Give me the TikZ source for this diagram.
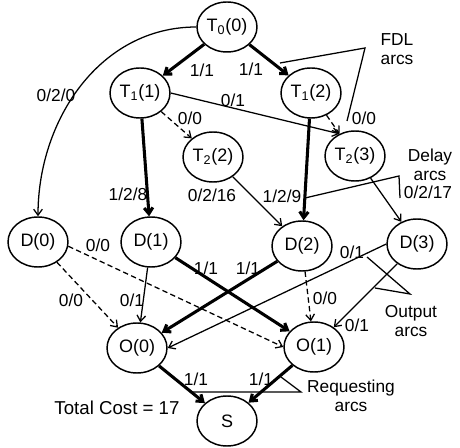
\documentclass[tikz,border=0pt]{standalone}
\usepackage{fontspec}
\setmainfont{Liberation Sans}
\usetikzlibrary{arrows.meta,shapes.geometric}

\begin{document}
\begin{tikzpicture}[x=0.75pt,y=-0.75pt,font=\fontsize{13}{14.5}\selectfont,
		state/.style={draw, ellipse, line width=1.1pt, minimum width=45pt,
			minimum height=37.5pt, inner sep=0pt, font=\fontsize{13.5}{15}\selectfont},
		arc/.style={line width=0.95pt, -{Straight Barb[length=4.5pt,width=6.5pt]}},
		used/.style={arc, line width=2.3pt},
		idle/.style={arc, dash pattern=on 4pt off 2.5pt},
		lbl/.style={inner sep=0pt},
		pointer/.style={line width=0.95pt}]
		\useasboundingbox (0,0) rectangle (460,448);
		% states
		\node[state] (T0)  at (227,27)  {T\textsubscript{0}(0)};
		\node[state] (T11) at (140,93)  {T\textsubscript{1}(1)};
		\node[state] (T12) at (311,93)  {T\textsubscript{1}(2)};
		\node[state] (T22) at (213,157) {T\textsubscript{2}(2)};
		\node[state] (T23) at (355,156) {T\textsubscript{2}(3)};
		\node[state] (D0)  at (38,242)  {D(0)};
		\node[state] (D1)  at (151,242) {D(1)};
		\node[state] (D2)  at (302,246) {D(2)};
		\node[state] (D3)  at (417,244) {D(3)};
		\node[state] (O0)  at (137,348) {O(0)};
		\node[state] (O1)  at (314,347) {O(1)};
		\node[state] (S)   at (227,421) {S};
		% FDL arcs
		\draw[used] (T0) -- (T11);
		\draw[used] (T0) -- (T12);
		\draw[arc]  (T0.west) to[out=180,in=90] (D0.north);
		\draw[idle] (T11) -- (T22);
		\draw[arc]  (T11.east) -- (T23.125);
		\draw[idle] (T12) -- (T23);
		% delay arcs
		\draw[used] (T11) -- (D1);
		\draw[arc]  (T22) -- (D2);
		\draw[used] (T12) -- (D2);
		\draw[arc]  (T23) -- (D3);
		% output arcs
		\draw[idle] (D0) -- (O0);
		\draw[idle] (D0.-8) -- (O1.180);
		\draw[arc]  (D1) -- (O0);
		\draw[used] (D1) -- (O1);
		\draw[used] (D2) -- (O0);
		\draw[idle] (D2) -- (O1);
		\draw[arc]  (D3.west) -- (O0.east);
		\draw[arc]  (D3) -- (O1);
		% requesting arcs
		\draw[used] (O0) -- (S);
		\draw[used] (O1) -- (S);
		% arc labels
		\node[lbl] (l1)  at (202,70)  {1/1};
		\node[lbl] (l2)  at (251,69)  {1/1};
		\node[lbl] (l3)  at (56,95)   {0/2/0};
		\node[lbl] (l4)  at (233,100) {0/1};
		\node[lbl] (l5)  at (190,118) {0/0};
		\node[lbl] (l6)  at (364,118) {0/0};
		\node[lbl] (l7)  at (128,194) {1/2/8};
		\node[lbl] (l8)  at (212,195) {0/2/16};
		\node[lbl] (l9)  at (282,196) {1/2/9};
		\node[lbl] (l10) at (428,192) {0/2/17};
		\node[lbl] (l11) at (98,245)  {0/0};
		\node[lbl] (l12) at (71,300)  {0/0};
		\node[lbl] (l13) at (132,300) {0/1};
		\node[lbl] (l14) at (206,268) {1/1};
		\node[lbl] (l15) at (248,268) {1/1};
		\node[lbl] (l16) at (352,252) {0/1};
		\node[lbl] (l17) at (325,298) {0/0};
		\node[lbl] (l18) at (357,325) {0/1};
		\node[lbl] (l19) at (196,379) {1/1};
		\node[lbl] (l20) at (261,379) {1/1};
		\node[lbl, font=\fontsize{14}{16}\selectfont] (cost) at (117,408) {Total Cost = 17};
		% callouts
		\node[lbl, align=center] (fdl)   at (397,49)  {FDL\\arcs};
		\node[lbl, align=center] (delay) at (430,165) {Delay\\arcs};
		\node[lbl, align=center] (outp)  at (411,321) {Output\\arcs};
		\node[lbl, align=center] (req)   at (351,396) {Requesting\\arcs};
		\coordinate (fdlA) at (280,63);
		\coordinate (fdlB) at (365,48);
		\coordinate (fdlC) at (347,121);
		\draw[pointer] (fdlA) -- (fdlB) -- (fdlC);
		\coordinate (dlyA) at (305,198);
		\coordinate (dlyB) at (399,176);
		\coordinate (dlyC) at (400,198);
		\draw[pointer] (dlyA) -- (dlyB) -- (dlyC);
		\coordinate (outA) at (367,257);
		\coordinate (outB) at (410,294);
		\coordinate (outC) at (375,288);
		\draw[pointer] (outA) -- (outB) -- (outC);
		\coordinate (reqA) at (192,392);
		\coordinate (reqB) at (301,392);
		\coordinate (reqC) at (281,377);
		\draw[pointer] (reqA) -- (reqB) -- (reqC);
	\end{tikzpicture}
\end{document}
